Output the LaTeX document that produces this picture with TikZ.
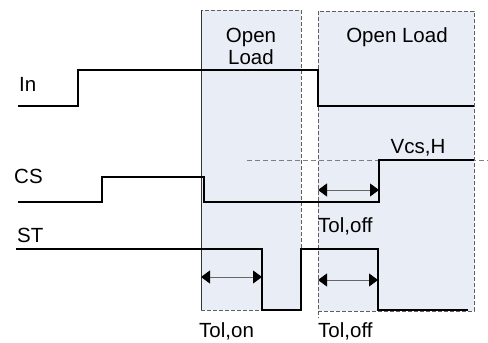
\documentclass[tikz,border=0pt]{standalone}
\usepackage{fontspec}
\setmainfont{Liberation Sans}
\usetikzlibrary{arrows.meta}
\definecolor{olfill}{RGB}{233,237,245}
\definecolor{olline}{RGB}{95,95,95}

\tikzset{
	sig/.style={line width=1.5pt, black},
	olbox/.style={fill=olfill, draw=olline, line width=0.8pt, dash pattern=on 4pt off 2pt},
	lbl/.style={inner sep=0pt, font=\fontsize{20.5}{24}\selectfont},
	tolhead/.tip={Triangle[length=9pt,width=13pt,color=black,fill=black,line width=0.8pt]},
	tol/.style={draw=gray!80!black, line width=1pt, tolhead-tolhead}
}

\begin{document}
\begin{tikzpicture}[x=1pt, y=-1pt]
	\useasboundingbox (0,0) rectangle (488,343);

	% open load windows
	\path[olbox] (201,10) rectangle (301,310);
	\draw[black!80, line width=0.7pt] (201,10) -- (201,310);
	\path[olbox] (318,11) rectangle (474,311);
	\draw[draw=olline, line width=0.8pt, dash pattern=on 4pt off 2pt] (318,311) -- (318,318);

	% threshold
	\draw[draw=gray, line width=1pt, dash pattern=on 5pt off 3pt] (247,160) -- (488,160);

	% signals
	\draw[sig] (18,106) -- (78,106) -- (78,70) -- (318,70) -- (318,106) -- (474,106);
	\draw[sig] (18,202) -- (102,202) -- (102,177) -- (204,177) -- (204,202) -- (379,202) -- (379,160) -- (474,160);
	\draw[sig] (16,249) -- (262,249) -- (262,310) -- (301,310) -- (301,249) -- (378,249) -- (378,310) -- (468,310);

	% labels
	\node[lbl, anchor=base west] (in) at (19,91)  {In};
	\node[lbl, anchor=base west] (cs) at (14,183) {CS};
	\node[lbl, anchor=base west] (st) at (17,242) {ST};
	\node[lbl, anchor=base] (open1) at (251,42) {Open};
	\node[lbl, anchor=base] (load1) at (251,64) {Load};
	\node[lbl, anchor=base] (open2) at (397,42) {Open Load};
	\node[lbl, anchor=base] (vcsh) at (418,153) {Vcs,H};
	\node[lbl, anchor=base west] (toloffa) at (318,232) {Tol,off};
	\node[lbl, anchor=base west] (tolon) at (199,337) {Tol,on};
	\node[lbl, anchor=base west] (toloffb) at (318,337) {Tol,off};

	% tolerance arrows
	\coordinate (csa) at (318,190);
	\coordinate (csb) at (379,190);
	\coordinate (ona) at (201,277);
	\coordinate (onb) at (262,277);
	\coordinate (offa) at (318,280);
	\coordinate (offb) at (378,280);
	\draw[tol] (csa) -- (csb);
	\draw[tol] (ona) -- (onb);
	\draw[tol] (offa) -- (offb);
\end{tikzpicture}
\end{document}
